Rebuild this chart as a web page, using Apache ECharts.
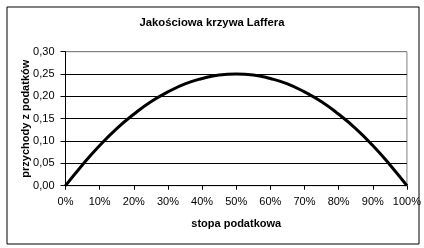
<!DOCTYPE html>
<html>
<head>
<meta charset="utf-8">
<script src="https://cdn.jsdelivr.net/npm/echarts@6/dist/echarts.min.js"></script>
<style>
html,body{margin:0;padding:0;background:#fff;}
#c{width:424px;height:248px;}
</style>
</head>
<body>
<div id="c"></div>
<script>
const title = 'Jakościowa krzywa Laffera';
const xName = 'stopa podatkowa';
const yName = 'przychody z podatków';
const taxRate = [0, 5, 10, 15, 20, 25, 30, 35, 40, 45, 50, 55, 60, 65, 70, 75, 80, 85, 90, 95, 100];
const revenue = [0, 0.047, 0.09, 0.128, 0.16, 0.188, 0.21, 0.228, 0.24, 0.248, 0.25, 0.248, 0.24, 0.228, 0.21, 0.188, 0.16, 0.128, 0.09, 0.047, 0];

const chart = echarts.init(document.getElementById('c'), null, {renderer: 'canvas'});
const font = '"Liberation Sans", Arial, sans-serif';
chart.setOption({
  animation: false,
  backgroundColor: '#fff',
  graphic: [{
    type: 'rect', left: 4.5, top: 4.5,
    shape: {width: 412, height: 237},
    style: {fill: 'none', stroke: '#000', lineWidth: 1},
    z: -1
  }],
  title: {
    text: title, left: 'center', top: 12,
    textStyle: {fontFamily: font, fontSize: 11.3, fontWeight: 'bold', color: '#000'}
  },
  grid: {
    left: 65.5, top: 51.7, width: 342, height: 134,
    show: true, borderColor: '#808080', borderWidth: 1, backgroundColor: 'transparent'
  },
  xAxis: {
    type: 'value', min: 0, max: 100, interval: 10,
    name: xName, nameLocation: 'middle', nameGap: 33, nameMoveOverlap: false,
    nameTextStyle: {fontFamily: font, fontSize: 11, fontWeight: 'bold', color: '#000'},
    axisLine: {show: true, lineStyle: {color: '#000', width: 1}},
    axisTick: {show: true, length: 4, lineStyle: {color: '#000'}},
    axisLabel: {formatter: '{value}%', fontFamily: font, fontSize: 11, color: '#000', margin: 11},
    splitLine: {show: false}
  },
  yAxis: {
    type: 'value', min: 0, max: 0.3, interval: 0.05,
    name: yName, nameLocation: 'middle', nameGap: 34, nameRotate: 90, nameMoveOverlap: false,
    nameTextStyle: {fontFamily: font, fontSize: 11, fontWeight: 'bold', color: '#000'},
    axisLine: {show: true, lineStyle: {color: '#000', width: 1}},
    axisTick: {show: true, length: 5, lineStyle: {color: '#000'}},
    axisLabel: {
      formatter: v => v.toFixed(2).replace('.', ','),
      fontFamily: font, fontSize: 11, color: '#000', margin: 11
    },
    splitLine: {show: true, lineStyle: {color: ['#000', '#000', '#000', '#000', '#000', '#000', '#808080'], width: 1}}
  },
  series: [{
    type: 'line',
    data: taxRate.map((t, i) => [t, revenue[i]]),
    smooth: true,
    showSymbol: false,
    lineStyle: {color: '#000', width: 3},
    clip: false
  }]
});
</script>
</body>
</html>
